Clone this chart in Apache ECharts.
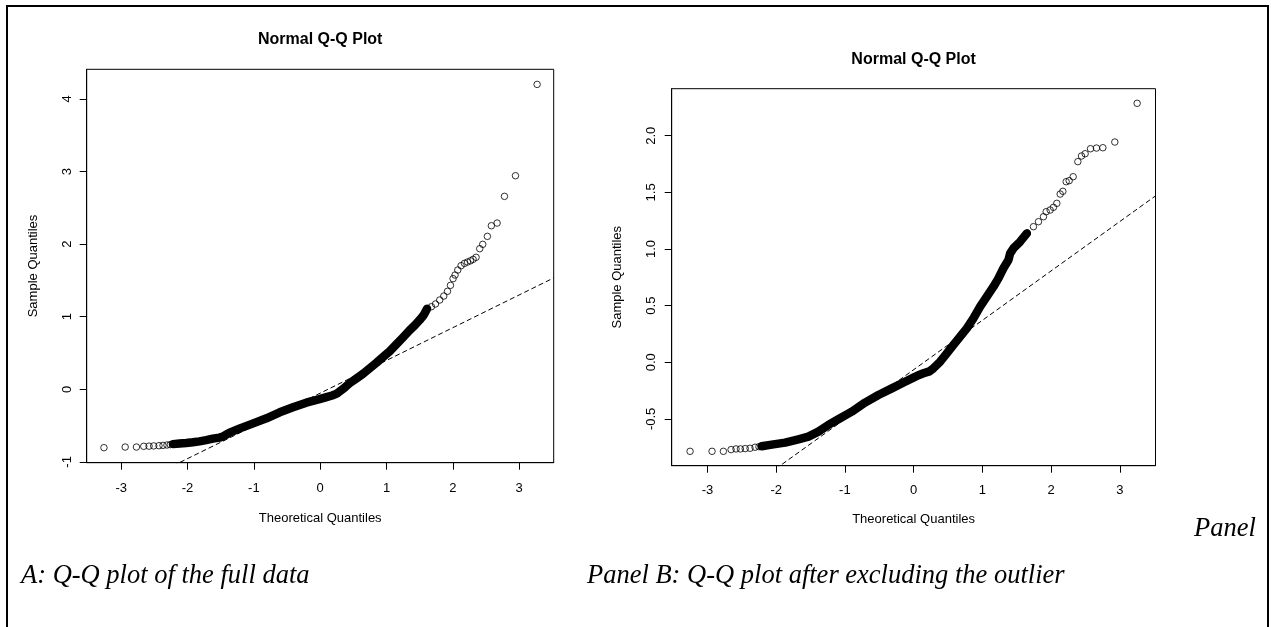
<!DOCTYPE html>
<html><head><meta charset="utf-8">
<script src="https://cdn.jsdelivr.net/npm/echarts@6/dist/echarts.min.js"></script>
<style>html,body{margin:0;padding:0;background:#fff}#c{width:1271px;height:627px}</style>
</head><body><div id="c"></div>
<script>
// ---- data ----
const xTicks = [-3, -2, -1, 0, 1, 2, 3];
const yTicksA = [-1, 0, 1, 2, 3, 4];
const yTicksB = [-0.5, 0, 0.5, 1, 1.5, 2];
const yTickLabelsB = ['-0.5', '0.0', '0.5', '1.0', '1.5', '2.0'];

// Panel A (full data): [theoretical quantile, sample quantile]
const tailLowA = [[-3.26,-0.804],[-2.94,-0.795],[-2.77,-0.795],[-2.66,-0.785],[-2.58,-0.783],[-2.51,-0.78],[-2.43,-0.777],[-2.37,-0.772],[-2.31,-0.767],[-2.26,-0.762]];
const bandA = [[-2.22,-0.755],[-2.12,-0.747],[-2.02,-0.74],[-1.92,-0.73],[-1.82,-0.717],[-1.72,-0.70],[-1.62,-0.68],[-1.52,-0.665],[-1.47,-0.652],[-1.40,-0.615],[-1.365,-0.597],[-1.21,-0.538],[-1.01,-0.469],[-0.81,-0.40],[-0.61,-0.317],[-0.41,-0.248],[-0.21,-0.184],[-0.01,-0.136],[0.094,-0.108],[0.18,-0.085],[0.25,-0.06],[0.344,0.005],[0.445,0.085],[0.546,0.15],[0.646,0.215],[0.747,0.29],[0.848,0.365],[0.947,0.445],[1.048,0.525],[1.149,0.62],[1.249,0.715],[1.35,0.815],[1.425,0.88],[1.50,0.955],[1.561,1.023],[1.611,1.11]];
const tailHighA = [[1.677,1.138],[1.738,1.175],[1.802,1.23],[1.863,1.285],[1.919,1.35],[1.964,1.432],[2.003,1.524],[2.033,1.574],[2.074,1.643],[2.124,1.703],[2.175,1.735],[2.22,1.753],[2.265,1.77],[2.305,1.79],[2.35,1.818],[2.405,1.937],[2.45,1.997],[2.52,2.107],[2.58,2.253],[2.667,2.29],[2.778,2.658],[2.944,2.942],[3.27,4.20]];
const qqLineA = { intercept: -0.053, slope: 0.451 };

// Panel B (outlier excluded)
const tailLowB = [[-3.253,-0.786],[-2.933,-0.786],[-2.768,-0.786],[-2.656,-0.771],[-2.584,-0.765],[-2.52,-0.765],[-2.45,-0.762],[-2.38,-0.759],[-2.307,-0.75],[-2.25,-0.745]];
const bandB = [[-2.21,-0.741],[-2.064,-0.727],[-1.87,-0.709],[-1.677,-0.68],[-1.531,-0.656],[-1.386,-0.612],[-1.24,-0.553],[-1.095,-0.503],[-0.90,-0.436],[-0.706,-0.356],[-0.512,-0.289],[-0.317,-0.23],[-0.124,-0.172],[-0.003,-0.136],[0.07,-0.114],[0.143,-0.097],[0.23,-0.08],[0.288,-0.053],[0.386,0.005],[0.483,0.079],[0.58,0.153],[0.677,0.226],[0.774,0.30],[0.87,0.388],[0.968,0.491],[1.065,0.579],[1.162,0.667],[1.234,0.741],[1.307,0.83],[1.38,0.903],[1.405,0.962],[1.453,1.006],[1.55,1.065],[1.648,1.138]];
const tailHighB = [[1.744,1.197],[1.817,1.241],[1.89,1.285],[1.929,1.329],[1.987,1.344],[2.035,1.368],[2.084,1.403],[2.133,1.485],[2.172,1.509],[2.22,1.594],[2.264,1.603],[2.322,1.638],[2.39,1.771],[2.443,1.821],[2.496,1.841],[2.574,1.885],[2.661,1.891],[2.754,1.894],[2.928,1.944],[3.253,2.286]];
const qqLineB = { intercept: -0.066, slope: 0.436 };

const xRange = [-3.52, 3.52];
const yRangeA = [-1.011, 4.408];
const yRangeB = [-0.913, 2.415];

// ---- chart ----
const SANS = "'Liberation Sans', Arial, Helvetica, sans-serif";
const SERIF = "'Liberation Serif', 'Times New Roman', serif";
const chart = echarts.init(document.getElementById('c'), null, { renderer: 'canvas' });

function lineEnds(l) {
  return [[xRange[0], l.intercept + l.slope * xRange[0]], [xRange[1], l.intercept + l.slope * xRange[1]]];
}
function xAxisCfg(gi, gap, margin) {
  return {
    type: 'value', gridIndex: gi, min: xRange[0], max: xRange[1], position: 'bottom',
    name: 'Theoretical Quantiles', nameLocation: 'middle', nameGap: gap,
    nameTextStyle: { fontFamily: SANS, fontSize: 13, color: '#000' },
    axisLine: { show: true, onZero: false, lineStyle: { color: '#000', width: 1 } }, splitLine: { show: false },
    axisTick: { show: true, inside: false, length: 7, customValues: xTicks, lineStyle: { color: '#000', width: 1 } },
    axisLabel: { customValues: xTicks, margin: margin, fontFamily: SANS, fontSize: 13, color: '#000' }
  };
}
function yAxisCfg(gi, rng, ticks, fmt, gap, margin) {
  return {
    type: 'value', gridIndex: gi, min: rng[0], max: rng[1], position: 'left',
    name: 'Sample Quantiles', nameLocation: 'middle', nameGap: gap, nameRotate: 90,
    nameTextStyle: { fontFamily: SANS, fontSize: 13, color: '#000' },
    axisLine: { show: true, onZero: false, lineStyle: { color: '#000', width: 1 } }, splitLine: { show: false },
    axisTick: { show: true, inside: false, length: 7, customValues: ticks, lineStyle: { color: '#000', width: 1 } },
    axisLabel: { customValues: ticks, rotate: 90, margin: margin, fontFamily: SANS, fontSize: 13, color: '#000', formatter: fmt }
  };
}
const circle = { color: 'rgba(0,0,0,0)', borderColor: '#000', borderWidth: 1 };

chart.setOption({
  animation: false,
  backgroundColor: '#fff',
  grid: [
    { left: 86.7, top: 69.3, width: 467, height: 393.4, show: true, borderColor: '#000', borderWidth: 1, backgroundColor: 'transparent' },
    { left: 671.7, top: 88.7, width: 483.8, height: 377, show: true, borderColor: '#000', borderWidth: 1, backgroundColor: 'transparent' }
  ],
  xAxis: [xAxisCfg(0, 49.5, 19), xAxisCfg(1, 47, 18)],
  yAxis: [
    yAxisCfg(0, yRangeA, yTicksA, v => String(v), 46.5, 13),
    yAxisCfg(1, yRangeB, yTicksB, v => yTickLabelsB[yTicksB.indexOf(v)] ?? String(v), 47.5, 14)
  ],
  series: [
    { type: 'line', xAxisIndex: 0, yAxisIndex: 0, data: bandA, showSymbol: false, symbol: 'none',
      lineStyle: { color: '#000', width: 8.5, cap: 'round', join: 'round' }, z: 2 },
    { type: 'scatter', xAxisIndex: 0, yAxisIndex: 0, data: tailLowA.concat(bandA, tailHighA),
      symbol: 'circle', symbolSize: 6.5, itemStyle: circle, z: 3 },
    { type: 'line', xAxisIndex: 0, yAxisIndex: 0, data: lineEnds(qqLineA), showSymbol: false, symbol: 'none', clip: true,
      lineStyle: { color: '#000', width: 1, type: [5, 3] }, z: 4 },
    { type: 'line', xAxisIndex: 1, yAxisIndex: 1, data: bandB, showSymbol: false, symbol: 'none',
      lineStyle: { color: '#000', width: 8.5, cap: 'round', join: 'round' }, z: 2 },
    { type: 'scatter', xAxisIndex: 1, yAxisIndex: 1, data: tailLowB.concat(bandB, tailHighB),
      symbol: 'circle', symbolSize: 6.5, itemStyle: circle, z: 3 },
    { type: 'line', xAxisIndex: 1, yAxisIndex: 1, data: lineEnds(qqLineB), showSymbol: false, symbol: 'none', clip: true,
      lineStyle: { color: '#000', width: 1, type: [5, 3] }, z: 4 }
  ],
  graphic: [
    { type: 'line', shape: { x1: 7, y1: 6, x2: 1268, y2: 6 }, style: { stroke: '#000', lineWidth: 2 } },
    { type: 'line', shape: { x1: 7, y1: 5, x2: 7, y2: 627 }, style: { stroke: '#000', lineWidth: 2 } },
    { type: 'line', shape: { x1: 1268, y1: 5, x2: 1268, y2: 627 }, style: { stroke: '#000', lineWidth: 2 } },
    { type: 'text', x: 320.2, y: 40, style: { text: 'Normal Q-Q Plot', font: 'bold 16px ' + SANS, fill: '#000', align: 'center', verticalAlign: 'middle' } },
    { type: 'text', x: 913.6, y: 60, style: { text: 'Normal Q-Q Plot', font: 'bold 16px ' + SANS, fill: '#000', align: 'center', verticalAlign: 'middle' } },
    { type: 'text', x: 21, y: 576.5, style: { text: 'A: Q-Q plot of the full data', font: 'italic 26.5px ' + SERIF, fill: '#000', align: 'left', verticalAlign: 'middle' } },
    { type: 'text', x: 587, y: 576.5, style: { text: 'Panel B: Q-Q plot after excluding the outlier', font: 'italic 26.5px ' + SERIF, fill: '#000', align: 'left', verticalAlign: 'middle' } },
    { type: 'text', x: 1194, y: 529.5, style: { text: 'Panel', font: 'italic 26.5px ' + SERIF, fill: '#000', align: 'left', verticalAlign: 'middle' } }
  ]
});
</script>
</body></html>
